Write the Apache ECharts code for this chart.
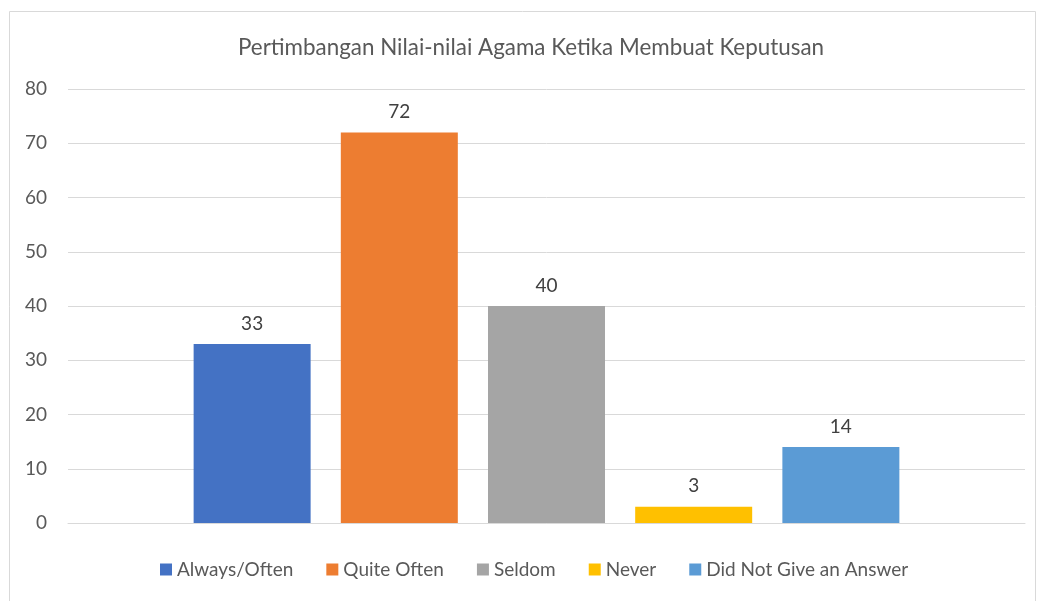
<!DOCTYPE html>
<html>
<head>
<meta charset="utf-8">
<script src="https://cdn.jsdelivr.net/npm/echarts@6/dist/echarts.min.js"></script>
<style>
  html, body { margin: 0; padding: 0; background: #fff; }
  #chart { width: 1040px; height: 601px; }
</style>
</head>
<body>
<div id="chart"></div>
<script>
const titleText = 'Pertimbangan Nilai-nilai Agama Ketika Membuat Keputusan';
const categories = [''];
const seriesNames = ['Always/Often', 'Quite Often', 'Seldom', 'Never', 'Did Not Give an Answer'];
const seriesValues = [33, 72, 40, 3, 14];
const seriesColors = ['#4472c4', '#ed7d31', '#a5a5a5', '#ffc000', '#5b9bd5'];

const chart = echarts.init(document.getElementById('chart'));
const font = 'Lato, "Open Sans", sans-serif';

const series = seriesNames.map((name, i) => ({
  name: name,
  type: 'bar',
  data: [seriesValues[i]],
  barWidth: 117,
  barGap: '25.8%',
  itemStyle: { color: seriesColors[i] },
  label: {
    show: true,
    position: 'top',
    distance: 11,
    color: '#404040',
    fontSize: 19,
    fontFamily: font
  }
}));

chart.setOption({
  animation: false,
  graphic: [{
    type: 'rect',
    shape: { x: 9.5, y: 11.5, width: 1026, height: 600 },
    style: { fill: 'none', stroke: '#d9d9d9', lineWidth: 1 },
    z: -1
  }],
  title: {
    text: titleText,
    left: 233,
    top: 32,
    textStyle: { color: '#595959', fontSize: 22.4, fontWeight: 'normal', fontFamily: font }
  },
  legend: {
    data: seriesNames,
    bottom: 17,
    left: 155,
    icon: 'rect',
    itemWidth: 12,
    itemHeight: 12,
    itemGap: 33,
    textStyle: { color: '#595959', fontSize: 19, fontFamily: font }
  },
  grid: { left: 68, right: 15, top: 89, bottom: 78, containLabel: false },
  xAxis: {
    type: 'category',
    data: categories,
    axisLine: { lineStyle: { color: '#d9d9d9', width: 1 } },
    axisTick: { show: false },
    axisLabel: { show: false }
  },
  yAxis: {
    type: 'value',
    min: 0,
    max: 80,
    interval: 10,
    axisLine: { show: false },
    axisTick: { show: false },
    splitLine: { lineStyle: { color: '#d9d9d9', width: 1 } },
    axisLabel: { color: '#595959', fontSize: 19, fontFamily: font, margin: 21 }
  },
  series: series
});
</script>
</body>
</html>
